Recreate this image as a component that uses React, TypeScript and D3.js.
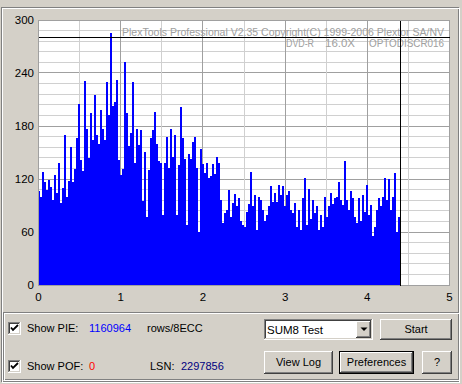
import React from "react";
import * as d3 from "d3";

const pieValues: number[] = [
  106, 100, 128, 117, 108, 119, 111, 96, 125, 104, 138, 93, 110, 170, 100, 118, 156, 117, 131, 166,
  205, 141, 129, 231, 177, 144, 195, 164, 215, 170, 160, 198, 177, 164, 230, 193, 285, 203, 207, 232,
  141, 124, 131, 252, 195, 157, 172, 230, 138, 177, 159, 175, 95, 151, 77, 130, 166, 175, 196, 160,
  140, 138, 79, 138, 168, 132, 177, 145, 170, 79, 136, 201, 166, 143, 68, 148, 143, 162, 167, 132,
  60, 154, 137, 127, 138, 121, 123, 137, 126, 145, 138, 96,
  70, 81, 85, 107, 77, 93, 103, 89, 98, 72, 68, 66, 83, 92, 128, 89, 102, 62, 100, 96,
  85, 72, 79, 89, 112, 94, 104, 94, 113, 102, 112, 89, 102, 106, 85, 81, 93, 66, 85, 62,
  98, 121, 68, 109, 75, 96,
  81, 89, 62, 79, 66, 100, 77, 89, 104, 92, 98, 100, 117, 96, 91, 140, 96, 85, 106, 98,
  77, 70, 98, 72, 102, 83, 113, 79, 91, 55, 66, 85, 98, 89, 100, 121, 96, 120, 85, 100,
  127, 60, 77,
];
const dataEnd = 4.4; // GB scanned
const xTicks = [0, 1, 2, 3, 4, 5];
const yTicks = [0, 60, 120, 180, 240, 300];
const limitValue = 280;
const titleLine = "PlexTools Professional V2.35 Copyright(C) 1999-2006 Plextor SA/NV";
const mediaInfo = ["DVD-R", "16.0X", "OPTODISCR016"];
const pieTotal = "1160964";
const pofTotal = "0";
const lsnValue = "2297856";

const FACE = "#d4d0c8";
const FONT = "'Liberation Sans', Arial, sans-serif";

function Raised({ x, y, w, h, def }: { x: number; y: number; w: number; h: number; def?: boolean }) {
  const o = def ? 1 : 0;
  return (
    <g shapeRendering="crispEdges">
      {def && <rect x={x + 0.5} y={y + 0.5} width={w - 1} height={h - 1} fill="none" stroke="#000" />}
      <rect x={x + o} y={y + o} width={w - 2 * o} height={h - 2 * o} fill={FACE} />
      <path d={`M${x + o + 0.5},${y + h - o - 1} V${y + o + 0.5} H${x + w - o - 1}`} stroke="#fff" fill="none" />
      <path d={`M${x + o},${y + h - o - 0.5} H${x + w - o - 0.5} V${y + o}`} stroke="#404040" fill="none" />
      <path d={`M${x + o + 1},${y + h - o - 1.5} H${x + w - o - 1.5} V${y + o + 1}`} stroke="#808080" fill="none" />
    </g>
  );
}

function Sunken({ x, y, w, h }: { x: number; y: number; w: number; h: number }) {
  return (
    <g shapeRendering="crispEdges">
      <rect x={x} y={y} width={w} height={h} fill="#fff" />
      <path d={`M${x + 0.5},${y + h - 1} V${y + 0.5} H${x + w - 1}`} stroke="#808080" fill="none" />
      <path d={`M${x + 1.5},${y + h - 2} V${y + 1.5} H${x + w - 2}`} stroke="#404040" fill="none" />
      <path d={`M${x},${y + h - 0.5} H${x + w - 0.5} V${y}`} stroke="#fff" fill="none" />
      <path d={`M${x + 1},${y + h - 1.5} H${x + w - 1.5} V${y + 1}`} stroke={FACE} fill="none" />
    </g>
  );
}

function CheckBox({ x, y }: { x: number; y: number }) {
  return (
    <g>
      <Sunken x={x} y={y} w={13} h={13} />
      <path d={`M${x + 3},${y + 5.5} L${x + 5},${y + 8} L${x + 10},${y + 3}`} stroke="#000" strokeWidth={1.8} fill="none" />
    </g>
  );
}

export default function App() {
  const x = d3.scaleLinear().domain([0, 5]).range([38.5, 449.5]);
  const y = d3.scaleLinear().domain([0, 300]).range([285, 20]);
  const step = dataEnd / pieValues.length;
  const minorY = d3.range(0, 301, 12);
  const minorX = d3.range(0, 5.01, 0.5);
  const px = (v: number) => Math.round(x(v) - 0.5) + 0.5;
  const py = (v: number) => Math.round(y(v) - 0.5) + 0.5;
  const left = px(0), right = px(5), top = py(300), bottom = py(0);

  return (
    <svg width={462} height={384} style={{ position: "absolute", left: 0, top: 0 }} fontFamily={FONT}>
      <rect x={0} y={0} width={462} height={384} fill={FACE} />
      <g shapeRendering="crispEdges" fill="none">
        <rect x={1.5} y={7.5} width={457} height={374} stroke="#808080" />
        <rect x={2.5} y={8.5} width={457} height={374} stroke="#fff" />
      </g>
      <rect x={left} y={top} width={right - left} height={bottom - top} fill="#fff" />
      <g shapeRendering="crispEdges">
        {minorY.map((v) => (
          <line key={"gy" + v} x1={left} x2={right} y1={py(v)} y2={py(v)} stroke={v % 60 === 0 ? "#a0a0a0" : "#d0d0d0"} />
        ))}
        {minorX.map((v) => (
          <line key={"gx" + v} x1={px(v)} x2={px(v)} y1={top} y2={bottom} stroke={Math.abs(v - Math.round(v)) < 1e-6 ? "#a0a0a0" : "#d0d0d0"} />
        ))}
      </g>
      <g fill="#a0a0a0" fontSize={11.5}>
        <text x={122} y={36} textLength={322} lengthAdjust="spacingAndGlyphs">{titleLine}</text>
        <text x={286} y={47} textLength={28} lengthAdjust="spacingAndGlyphs">{mediaInfo[0]}</text>
        <text x={325} y={47} textLength={30} lengthAdjust="spacingAndGlyphs">{mediaInfo[1]}</text>
        <text x={369} y={47} textLength={75} lengthAdjust="spacingAndGlyphs">{mediaInfo[2]}</text>
      </g>
      <g fill="#0000ff" shapeRendering="crispEdges">
        {pieValues.map((v, i) => {
          const x0 = Math.round(x(i * step));
          const x1 = Math.round(x((i + 1) * step));
          const yv = Math.round(y(v));
          return <rect key={i} x={x0} y={yv} width={Math.max(1, x1 - x0)} height={Math.round(y(0)) - yv} />;
        })}
      </g>
      <rect x={left} y={top} width={right - left} height={bottom - top} fill="none" stroke="#a0a0a0" shapeRendering="crispEdges" />
      <g stroke="#000" shapeRendering="crispEdges">
        <line x1={left} x2={right} y1={py(limitValue)} y2={py(limitValue)} />
        <line x1={px(dataEnd)} x2={px(dataEnd)} y1={top} y2={bottom} />
      </g>
      <g fontSize={11.5} fill="#000">
        {yTicks.map((v) => (
          <text key={"yt" + v} x={34} y={y(v) + 4} textAnchor="end">{v}</text>
        ))}
        {xTicks.map((v) => (
          <text key={"xt" + v} x={x(v)} y={301} textAnchor="middle">{v}</text>
        ))}
      </g>
      <g shapeRendering="crispEdges" fill="none">
        <rect x={3.5} y={312.5} width={455} height={67} stroke="#808080" />
        <rect x={4.5} y={313.5} width={455} height={67} stroke="#fff" />
      </g>
      <CheckBox x={8} y={322} />
      <CheckBox x={8} y={360} />
      <g fontSize={11} fill="#000">
        <text x={27} y={332}>Show PIE:</text>
        <text x={89} y={332} fill="#0000ff">{pieTotal}</text>
        <text x={147} y={332}>rows/8ECC</text>
        <text x={27} y={370}>Show POF:</text>
        <text x={89} y={370} fill="#ff0000">{pofTotal}</text>
        <text x={150} y={370}>LSN:</text>
        <text x={181} y={370} fill="#000080">{lsnValue}</text>
      </g>
      <Sunken x={264} y={319} w={109} h={21} />
      <Raised x={356} y={321} w={15} h={17} />
      <path d="M360.5,327.5 H367.5 L364,331 Z" fill="#000" />
      <text x={267} y={334} fontSize={11.5} fill="#000">SUM8 Test</text>
      <Raised x={380} y={319} w={72} h={21} />
      <text x={416} y={333} fontSize={11} textAnchor="middle">Start</text>
      <Raised x={264} y={351} w={69} h={23} />
      <text x={298.5} y={366} fontSize={11} textAnchor="middle">View Log</text>
      <Raised x={339} y={351} w={75} h={23} def />
      <text x={376.5} y={366} fontSize={11} textAnchor="middle">Preferences</text>
      <Raised x={422} y={351} w={30} h={23} />
      <text x={437} y={366} fontSize={11} textAnchor="middle">?</text>
    </svg>
  );
}
